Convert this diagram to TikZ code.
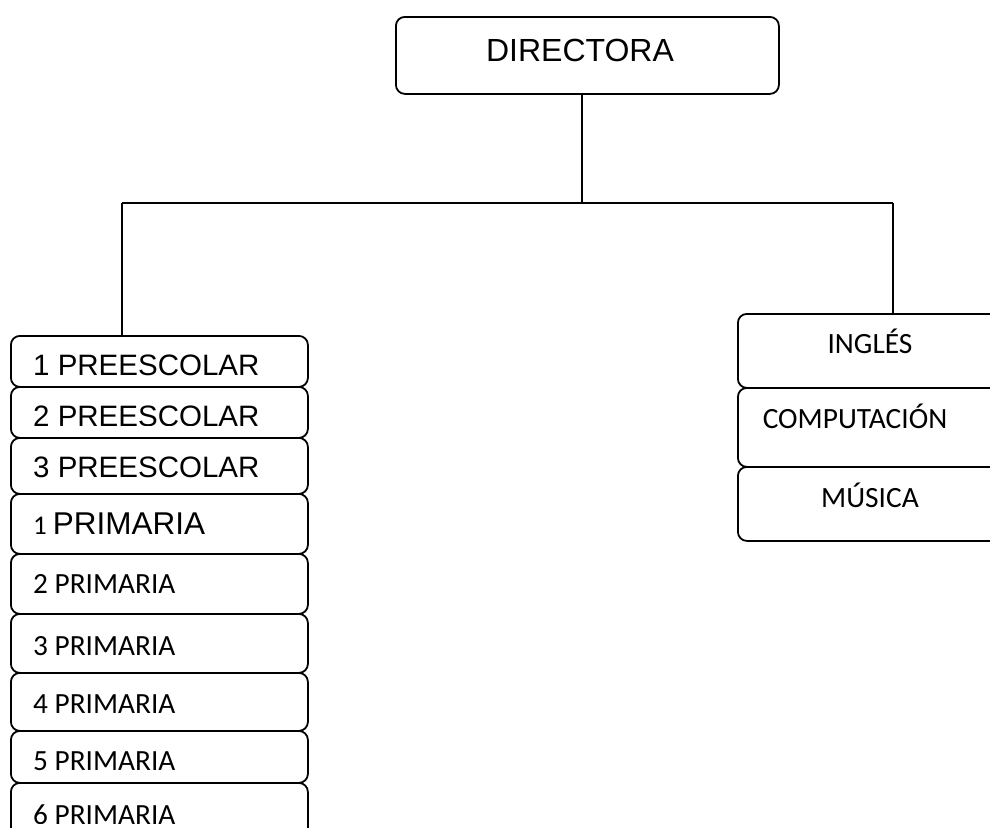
\documentclass[tikz,border=0pt]{standalone}
\usepackage{fontspec}
\setmainfont{Liberation Sans}
\newfontfamily\calib{Carlito}
\begin{document}
\begin{tikzpicture}[x=1pt,y=-1pt,
  box/.style={draw, line width=1.8pt, rounded corners=9pt, fill=white, anchor=north west, inner sep=0pt},
  arialtxt/.style={anchor=base west, inner sep=0pt, font=\fontsize{29.5}{31}\selectfont},
  calibtxt/.style={anchor=base west, inner sep=0pt, font=\calib\fontsize{29.3}{31}\selectfont},
  ctxt/.style={anchor=base, inner sep=0pt, font=\calib\fontsize{29.4}{31}\selectfont},
  conn/.style={line width=1.8pt}]
\useasboundingbox (0,0) rectangle (990,827);
% top
\node[box, minimum width=383pt, minimum height=77pt] (dir) at (395,16) {};
\node[anchor=base, inner sep=0pt, font=\fontsize{32}{34}\selectfont] (dirt) at (580,61) {DIRECTORA};
\coordinate (j) at (582,203);
\coordinate (jl) at (122,203);
\coordinate (jr) at (893,203);
% left column
\node[box, minimum width=297pt, minimum height=51pt] (p1) at (10,335) {};
\node[arialtxt] (p1t) at (33,375) {1 PREESCOLAR};
\node[box, minimum width=297pt, minimum height=51pt] (p2) at (10,386) {};
\begin{scope}
\clip (10,386) rectangle (307,425);
\node[arialtxt] (p2t) at (33,426) {2 PREESCOLAR};
\end{scope}
\node[box, minimum width=297pt, minimum height=56pt] (p3) at (10,437) {};
\node[arialtxt] (p3t) at (33,477) {3 PREESCOLAR};
\node[box, minimum width=297pt, minimum height=60pt] (q1) at (10,493) {};
\node[anchor=base west, inner sep=0pt] (q1t) at (33,534) {{\calib\fontsize{27}{29}\selectfont 1 }{\fontsize{31.5}{33}\selectfont PRIMARIA}};
\node[box, minimum width=297pt, minimum height=60pt] (q2) at (10,553) {};
\node[calibtxt] (q2t) at (33,593) {2 PRIMARIA};
\node[box, minimum width=297pt, minimum height=59pt] (q3) at (10,613) {};
\node[calibtxt] (q3t) at (33,655) {3 PRIMARIA};
\node[box, minimum width=297pt, minimum height=58pt] (q4) at (10,672) {};
\node[calibtxt] (q4t) at (33,713) {4 PRIMARIA};
\node[box, minimum width=297pt, minimum height=52pt] (q5) at (10,730) {};
\node[calibtxt] (q5t) at (33,770) {5 PRIMARIA};
\node[box, minimum width=297pt, minimum height=70pt] (q6) at (10,782) {};
\begin{scope}
\clip (10,782) rectangle (307,823);
\node[calibtxt] (q6t) at (33,824) {6 PRIMARIA};
\end{scope}
% right column
\node[box, minimum width=280pt, minimum height=74pt] (r1) at (737,313) {};
\node[ctxt] (r1t) at (870,353) {INGLÉS};
\node[box, minimum width=280pt, minimum height=79pt] (r2) at (737,387) {};
\node[ctxt] (r2t) at (855,428) {COMPUTACIÓN};
\node[box, minimum width=280pt, minimum height=74pt] (r3) at (737,466) {};
\node[ctxt] (r3t) at (870,507) {MÚSICA};
% connectors
\draw[conn] (dir.south -| j) -- (j);
\draw[conn] (jl) -- (jr);
\draw[conn] (jl) -- (p1.north -| jl);
\draw[conn] (jr) -- (r1.north -| jr);
\end{tikzpicture}
\end{document}
